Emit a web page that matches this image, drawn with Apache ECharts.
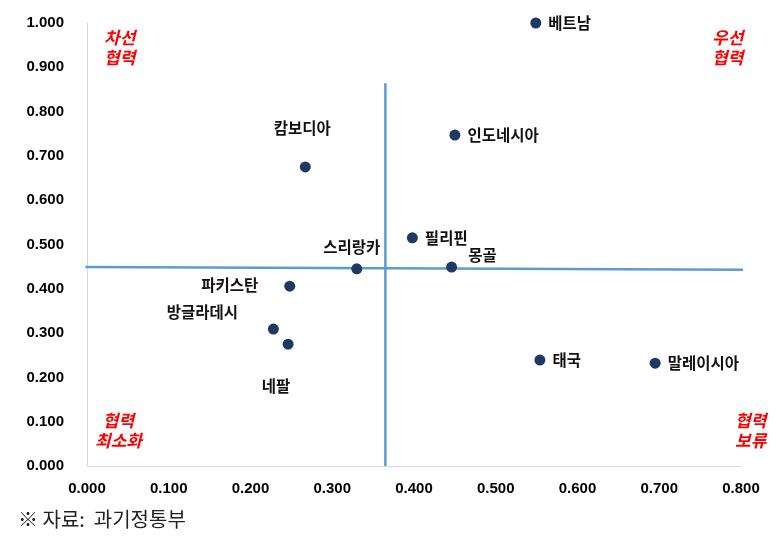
<!DOCTYPE html>
<html>
<head>
<meta charset="utf-8">
<script src="https://cdn.jsdelivr.net/npm/echarts@6/dist/echarts.min.js"></script>
<style>html,body{margin:0;padding:0;background:#fff}#c{width:776px;height:548px}</style>
</head>
<body>
<div id="c"></div>
<script>
// Data
const countries = ['베트남','인도네시아','캄보디아','필리핀','몽골','스리랑카','파키스탄','방글라데시','네팔','태국','말레이시아'];
const xValues = [0.549, 0.450, 0.267, 0.398, 0.446, 0.330, 0.248, 0.228, 0.246, 0.554, 0.695];
const yValues = [1.000, 0.747, 0.675, 0.515, 0.449, 0.445, 0.406, 0.309, 0.275, 0.239, 0.232];
const hLine = [[-0.002, 0.449], [0.817, 0.443]];
const vLine = [[0.365, 0], [0.365, 0.864]];
const xTicks = [0, 0.1, 0.2, 0.3, 0.4, 0.5, 0.6, 0.7, 0.8];
const yTicks = [0, 0.1, 0.2, 0.3, 0.4, 0.5, 0.6, 0.7, 0.8, 0.9, 1.0];
const quadrantTexts = ['차선\n협력', '우선\n협력', '협력\n최소화', '협력\n보류'];
const sourceNote = '※ 자료:  과기정통부';

// Label placement (styling): offset of label centre from the dot centre, or 'right'
const SYM = 11;
const labelPlace = {
  '베트남': 'right',
  '인도네시아': 'right',
  '캄보디아': [-3, -39],
  '필리핀': 'right',
  '몽골': [31, -12],
  '스리랑카': [-5, -22],
  '파키스탄': [-60, -1],
  '방글라데시': [-71, -17],
  '네팔': [-12, 42],
  '태국': 'right',
  '말레이시아': 'right'
};

const font = '"Noto Sans CJK KR", "Noto Sans", sans-serif';
const pts = countries.map((n, i) => {
  const p = labelPlace[n];
  const lab = {show: true, formatter: '{b}', color: '#111', fontSize: 15.5, fontWeight: 'bold', fontFamily: font, verticalAlign: 'middle'};
  if (p === 'right') { lab.position = 'right'; lab.distance = 7; lab.align = 'left'; }
  else { lab.position = [SYM / 2 + p[0], SYM / 2 + p[1]]; lab.align = 'center'; }
  return {name: n, value: [xValues[i], yValues[i]], label: lab};
});

const chart = echarts.init(document.getElementById('c'), null, {renderer: 'canvas'});
const redText = {fill: '#FF0000', font: 'italic bold 17px ' + font, textAlign: 'center', lineHeight: 20};
const axisFont = 'Arial, "Liberation Sans", sans-serif';
chart.setOption({
  animation: false,
  backgroundColor: '#fff',
  grid: {left: 87, right: 35, top: 23, bottom: 82},
  xAxis: {
    type: 'value', min: 0, max: 0.8, interval: 0.1,
    axisLine: {show: true, lineStyle: {color: '#D9D9D9', width: 1}},
    axisTick: {show: false}, splitLine: {show: false},
    axisLabel: {margin: 15, color: '#000', fontWeight: 'bold', fontSize: 15, fontFamily: axisFont, formatter: v => v.toFixed(3)}
  },
  yAxis: {
    type: 'value', min: 0, max: 1.0, interval: 0.1,
    axisLine: {show: true, lineStyle: {color: '#D9D9D9', width: 1}},
    axisTick: {show: false}, splitLine: {show: false},
    axisLabel: {margin: 23, color: '#000', fontWeight: 'bold', fontSize: 15, fontFamily: axisFont, formatter: v => v.toFixed(3)}
  },
  series: [
    {type: 'line', data: hLine, clip: false, symbol: 'none', silent: true, lineStyle: {color: '#5B9BD5', width: 2.5}, z: 1},
    {type: 'line', data: vLine, clip: false, symbol: 'none', silent: true, lineStyle: {color: '#5B9BD5', width: 2.5}, z: 1},
    {type: 'scatter', data: pts, symbolSize: SYM, itemStyle: {color: '#1F3864', opacity: 1}, z: 5, labelLayout: {hideOverlap: false}}
  ],
  graphic: [
    {type: 'text', left: 104, top: 28, style: Object.assign({text: quadrantTexts[0]}, redText)},
    {type: 'text', left: 712, top: 28, style: Object.assign({text: quadrantTexts[1]}, redText)},
    {type: 'text', left: 95, top: 411, style: Object.assign({text: quadrantTexts[2]}, redText)},
    {type: 'text', left: 735, top: 411, style: Object.assign({text: quadrantTexts[3]}, redText)},
    {type: 'text', left: 18, top: 509, style: {text: sourceNote, fill: '#222', font: '20px ' + font}}
  ]
});
</script>
</body>
</html>
